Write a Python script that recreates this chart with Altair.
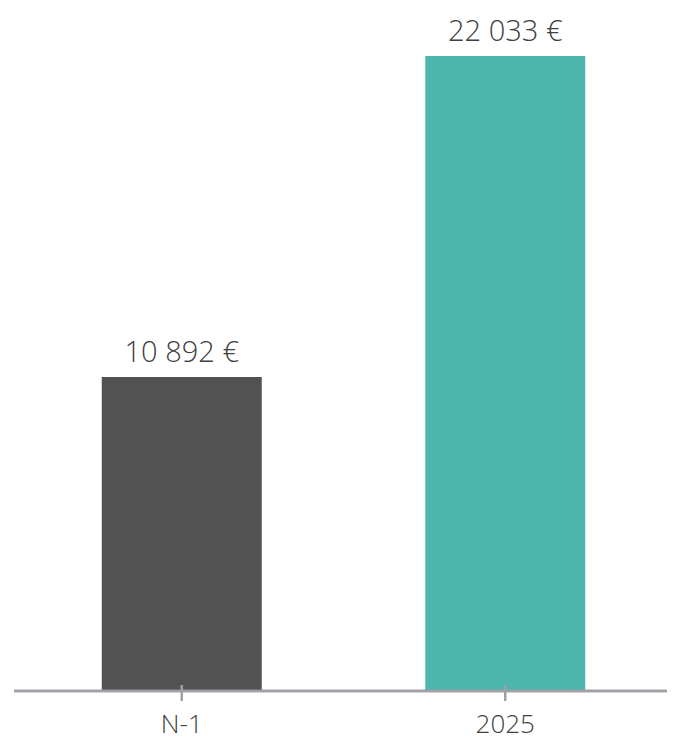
import altair as alt
import pandas as pd

categories = ["N-1", "2025"]
values = [10892, 22033]
labels = ["10 892 €", "22 033 €"]
colors = ["#525252", "#4db6ac"]

df = pd.DataFrame({"cat": categories, "val": values, "label": labels, "color": colors})

W, H = 647, 675
PB = 49
FONT = "Open Sans"
TXT = "#404040"
AX = "#a0a0a6"

x = alt.X("cat:N", sort=categories, title=None,
          scale=alt.Scale(paddingInner=0.5, paddingOuter=0.25),
          axis=alt.Axis(labelAngle=0, labelFont=FONT, labelFontSize=26, labelFontWeight=300,
                        labelColor=TXT, labelBaseline="alphabetic", ticks=False, domain=False,
                        labelPadding=41, grid=False))
y = alt.Y("val:Q", title=None, scale=alt.Scale(domain=[0, 23421], nice=False), axis=None)

base = alt.Chart(df)

bars = base.mark_bar(size=160).encode(
    x=x, y=y, color=alt.Color("color:N", scale=None)
)

text = base.mark_text(baseline="alphabetic", dy=-15, font=FONT, fontSize=29,
                      fontWeight=300, color=TXT).encode(
    x=alt.X("cat:N", sort=categories), y="val:Q", text="label:N"
)

baseline = base.mark_rule(color=AX, strokeWidth=2.5).encode(
    x=alt.value(-6), x2=alt.value(W), y=alt.value(H)
)

ticks = base.mark_rule(color=AX, strokeWidth=2.5).encode(
    x=alt.X("cat:N", sort=categories), y=alt.value(H - 6), y2=alt.value(H + 10)
)

chart = alt.layer(bars, text, baseline, ticks).properties(
    width=W, height=H,
    autosize=alt.AutoSizeParams(type="none"),
    padding={"left": 12, "right": 12, "top": 8, "bottom": PB},
    background="white",
).configure_view(strokeWidth=0)

chart.save("out.html", embed_options={"renderer": "svg", "actions": False})
